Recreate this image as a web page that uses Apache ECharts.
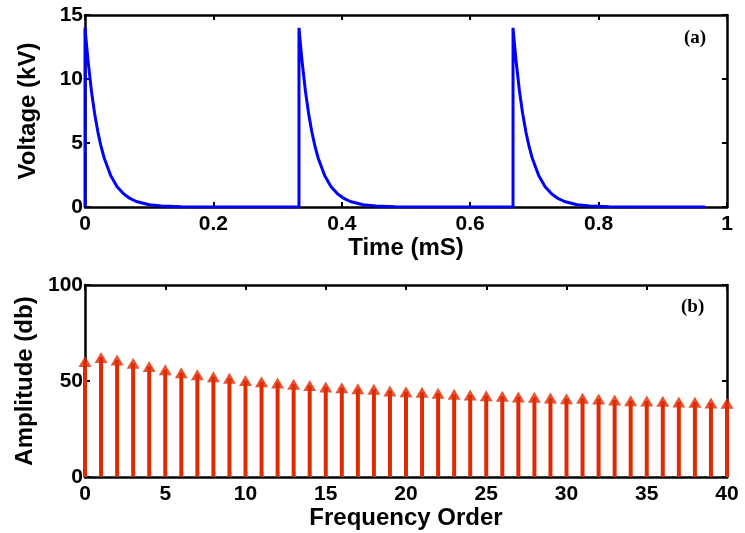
<!DOCTYPE html>
<html>
<head>
<meta charset="utf-8">
<script src="https://cdn.jsdelivr.net/npm/echarts@6/dist/echarts.min.js"></script>
<style>html,body{margin:0;padding:0;background:#fff;}#c{width:745px;height:533px;}</style>
</head>
<body>
<div id="c"></div>
<script>
// Panel (a): voltage waveform
const timeMs = [0, 0, 0.0025, 0.005, 0.01, 0.015, 0.02, 0.025, 0.03, 0.04, 0.05, 0.06, 0.07, 0.08, 0.1, 0.12, 0.15, 0.18,
  0.3333, 0.3333, 0.3358, 0.3383, 0.3433, 0.3483, 0.3533, 0.3583, 0.3633, 0.3733, 0.3833, 0.3933, 0.4033, 0.4133, 0.4333, 0.4533, 0.4833, 0.5133,
  0.6667, 0.6667, 0.6692, 0.6717, 0.6767, 0.6817, 0.6867, 0.6917, 0.6967, 0.7067, 0.7167, 0.7267, 0.7367, 0.7467, 0.7667, 0.7867, 0.8167, 0.8467,
  0.966];
const voltageKv = [0, 14, 12.6, 11.3, 9.07, 7.3, 5.88, 4.73, 3.81, 2.46, 1.59, 1.03, 0.67, 0.43, 0.18, 0.08, 0.02, 0,
  0, 14, 12.6, 11.3, 9.07, 7.3, 5.88, 4.73, 3.81, 2.46, 1.59, 1.03, 0.67, 0.43, 0.18, 0.08, 0.02, 0,
  0, 14, 12.6, 11.3, 9.07, 7.3, 5.88, 4.73, 3.81, 2.46, 1.59, 1.03, 0.67, 0.43, 0.18, 0.08, 0.02, 0,
  0];

// Panel (b): harmonic amplitudes
const freqOrder = [0, 1, 2, 3, 4, 5, 6, 7, 8, 9, 10, 11, 12, 13, 14, 15, 16, 17, 18, 19, 20,
  21, 22, 23, 24, 25, 26, 27, 28, 29, 30, 31, 32, 33, 34, 35, 36, 37, 38, 39, 40];
const amplitudeDb = [60.1, 62.3, 60.9, 59.2, 57.5, 55.9, 54.3, 53.3, 52.2, 51.4,
  50.2, 49.6, 49.0, 48.3, 47.6, 46.9, 46.5, 46.0, 45.7, 44.8,
  44.4, 44.1, 43.6, 43.1, 42.7, 42.3, 42.0, 41.7, 41.5, 41.1,
  40.8, 41.0, 40.6, 40.1, 39.7, 39.6, 39.4, 39.1, 38.9, 38.5, 38.4];

const lineData = timeMs.map((t, i) => [t, voltageKv[i]]);
const stemData = freqOrder.map((f, i) => [f, amplitudeDb[i]]);

const FONT = 'Liberation Sans, Arial, sans-serif';
const RED = '#e02a00';
const axLine = { show: true, onZero: false, lineStyle: { color: '#000', width: 2.5 } };
const tickIn = { show: true, inside: true, length: 5, lineStyle: { color: '#000', width: 2 } };
const lbl = { color: '#000', fontFamily: FONT, fontWeight: 'bold', fontSize: 21 };
const nameStyle = { color: '#000', fontFamily: FONT, fontWeight: 'bold', fontSize: 24 };

const chart = echarts.init(document.getElementById('c'), null, { renderer: 'canvas' });
chart.setOption({
  animation: false,
  backgroundColor: '#fff',
  grid: [
    { left: 85, top: 15, width: 642, height: 192 },
    { left: 85, top: 285, width: 642, height: 192 }
  ],
  xAxis: [
    { type: 'value', gridIndex: 0, min: 0, max: 1, interval: 0.2, position: 'bottom',
      axisLine: axLine, axisTick: tickIn, splitLine: { show: false },
      axisLabel: Object.assign({ margin: 7, formatter: v => String(+v.toFixed(1)) }, lbl),
      name: 'Time (mS)', nameLocation: 'middle', nameGap: 27, nameTextStyle: nameStyle },
    { type: 'value', gridIndex: 0, min: 0, max: 1, interval: 0.2, position: 'top',
      axisLine: axLine, axisTick: tickIn, splitLine: { show: false }, axisLabel: { show: false } },
    { type: 'value', gridIndex: 1, min: 0, max: 40, interval: 5, position: 'bottom',
      axisLine: axLine, axisTick: tickIn, splitLine: { show: false },
      axisLabel: Object.assign({ margin: 7 }, lbl),
      name: 'Frequency Order', nameLocation: 'middle', nameGap: 27, nameTextStyle: nameStyle },
    { type: 'value', gridIndex: 1, min: 0, max: 40, interval: 5, position: 'top',
      axisLine: axLine, axisTick: tickIn, splitLine: { show: false }, axisLabel: { show: false } }
  ],
  yAxis: [
    { type: 'value', gridIndex: 0, min: 0, max: 15, interval: 5, position: 'left',
      axisLine: axLine, axisTick: tickIn, splitLine: { show: false },
      axisLabel: Object.assign({ margin: 2 }, lbl),
      name: 'Voltage (kV)', nameLocation: 'middle', nameGap: 45, nameTextStyle: nameStyle },
    { type: 'value', gridIndex: 0, min: 0, max: 15, interval: 5, position: 'right',
      axisLine: axLine, axisTick: tickIn, splitLine: { show: false }, axisLabel: { show: false } },
    { type: 'value', gridIndex: 1, min: 0, max: 100, interval: 50, position: 'left',
      axisLine: axLine, axisTick: tickIn, splitLine: { show: false },
      axisLabel: Object.assign({ margin: 2 }, lbl),
      name: 'Amplitude (db)', nameLocation: 'middle', nameGap: 45, nameTextStyle: nameStyle },
    { type: 'value', gridIndex: 1, min: 0, max: 100, interval: 50, position: 'right',
      axisLine: axLine, axisTick: tickIn, splitLine: { show: false }, axisLabel: { show: false } }
  ],
  series: [
    { type: 'line', xAxisIndex: 0, yAxisIndex: 0, data: lineData, showSymbol: false, symbol: 'none',
      lineStyle: { color: '#0000ff', width: 3 }, clip: true, z: 3 },
    { type: 'bar', xAxisIndex: 2, yAxisIndex: 2, data: stemData, barWidth: 4, clip: false,
      itemStyle: { color: RED }, z: 3 },
    { type: 'scatter', xAxisIndex: 2, yAxisIndex: 2, data: stemData, symbol: 'triangle', symbolSize: [13, 11],
      clip: false, itemStyle: { color: RED }, z: 4 }
  ],
  graphic: [
    { type: 'text', left: 684, top: 29, style: { text: '(a)', fill: '#000', font: 'bold 19px "Liberation Serif", "Times New Roman", serif' } },
    { type: 'text', left: 681, top: 298, style: { text: '(b)', fill: '#000', font: 'bold 19px "Liberation Serif", "Times New Roman", serif' } }
  ]
});
</script>
</body>
</html>
